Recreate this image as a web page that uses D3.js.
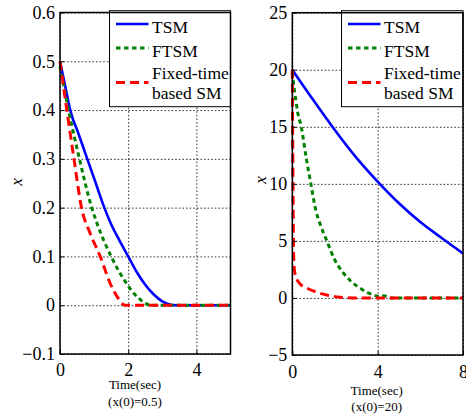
<!DOCTYPE html>
<html>
<head>
<meta charset="utf-8">
<script src="https://cdn.jsdelivr.net/npm/d3@7"></script>
</head>
<body style="margin:0">
<div id="chart"></div>
<script>
// left panel, x(0)=0.5
var tsmLeftT  = [0, 0.15, 0.3, 0.55, 0.8, 1.05, 1.3, 1.5, 1.75, 2.0, 2.25, 2.5, 2.75, 3.0, 3.25, 3.4, 5];
var tsmLeftX  = [0.5, 0.45, 0.4, 0.35, 0.3, 0.25, 0.2, 0.166, 0.132, 0.1, 0.068, 0.042, 0.022, 0.008, 0.001, 0, 0];
var ftsmLeftT = [0, 0.25, 0.57, 0.93, 1.1, 1.3, 1.5, 1.7, 1.9, 2.1, 2.3, 2.5, 2.65, 5];
var ftsmLeftX = [0.49, 0.4, 0.3, 0.2, 0.165, 0.13, 0.1, 0.073, 0.05, 0.03, 0.015, 0.004, 0, 0];
var fxLeftT   = [0, 0.2, 0.41, 0.63, 0.88, 1.18, 1.47, 1.7, 1.9, 5];
var fxLeftX   = [0.5, 0.4, 0.3, 0.2, 0.148, 0.1, 0.045, 0.015, 0, 0];

// right panel, x(0)=20
var tsmRightT  = [0, 1, 2, 3, 4, 5, 6, 7, 8];
var tsmRightX  = [20, 17.3, 14.7, 12.3, 10.2, 8.3, 6.65, 5.25, 3.9];
var ftsmRightT = [0, 0.05, 0.175, 0.25, 0.42, 0.65, 0.87, 1.1, 1.3, 1.62, 2.0, 2.35, 2.71, 3.1, 3.5, 3.9, 4.1, 4.28, 4.6, 8];
var ftsmRightX = [19.8, 18.9, 17.2, 16.3, 15, 12.3, 10, 7.7, 6.5, 5, 3.3, 2.3, 1.53, 0.95, 0.5, 0.2, 0.12, 0.2, 0, 0];
var fxRightT   = [0, 0.02, 0.04, 0.06, 0.1, 0.2, 0.36, 0.7, 1.15, 1.7, 2.24, 2.8, 8];
var fxRightX   = [20, 14, 8, 4, 2.4, 1.7, 1.25, 0.85, 0.5, 0.22, 0.07, 0, 0];

var leftXTicks  = [0, 2, 4];
var leftYTicks  = [-0.1, 0, 0.1, 0.2, 0.3, 0.4, 0.5, 0.6];
var rightXTicks = [0, 4, 8];
var rightYTicks = [-5, 0, 5, 10, 15, 20, 25];

var legendNames = ['TSM', 'FTSM', 'Fixed-time|based SM'];

var svg = d3.select('#chart').append('svg').attr('width', 466).attr('height', 417)
  .style('display', 'block');

var styles = [
  { color: '#0000ff', dash: null, width: 2.6 },
  { color: '#008000', dash: '4.5,3.5', width: 3 },
  { color: '#ff0000', dash: '9,5', width: 3 }
];

function zip(t, v) { return t.map(function(d, i) { return [d, v[i]]; }); }

function drawPanel(p) {
  var x = d3.scaleLinear().domain(p.xDomain).range([p.left, p.right]);
  var y = d3.scaleLinear().domain(p.yDomain).range([p.bottom, p.top]);
  var h = p.bottom - p.top, w = p.right - p.left;
  var g = svg.append('g');

  // grid
  g.append('g').attr('transform', 'translate(0,' + p.bottom + ')')
    .call(d3.axisBottom(x).tickValues(p.xTicks).tickSize(-h).tickFormat(''))
    .call(function(s) {
      s.select('.domain').remove();
      s.selectAll('line').attr('stroke', '#000').attr('stroke-width', 0.8).attr('stroke-dasharray', '1.6,2');
    });
  g.append('g').attr('transform', 'translate(' + p.left + ',0)')
    .call(d3.axisLeft(y).tickValues(p.yTicks).tickSize(-w).tickFormat(''))
    .call(function(s) {
      s.select('.domain').remove();
      s.selectAll('line').attr('stroke', '#000').attr('stroke-width', 0.8).attr('stroke-dasharray', '1.6,2');
    });

  // lines
  var line = d3.line().x(function(d) { return x(d[0]); }).y(function(d) { return y(d[1]); })
    .curve(d3.curveMonotoneX);
  p.series.forEach(function(s, i) {
    g.append('path').datum(s)
      .attr('fill', 'none')
      .attr('stroke', styles[i].color)
      .attr('stroke-width', styles[i].width)
      .attr('stroke-dasharray', styles[i].dash)
      .attr('d', line);
  });

  // axes
  g.append('g').attr('transform', 'translate(0,' + p.bottom + ')')
    .call(d3.axisBottom(x).tickValues(p.xTicks).tickSize(-4).tickPadding(p.xPad).tickFormat(d3.format('d')))
    .call(function(s) {
      s.select('.domain').remove();
      s.selectAll('line').attr('stroke', '#000');
      s.selectAll('text').style('font-size', '18px');
    });
  g.append('g').attr('transform', 'translate(' + p.left + ',0)')
    .call(d3.axisLeft(y).tickValues(p.yTicks).tickSize(-4).tickPadding(5).tickFormat(p.yFormat))
    .call(function(s) {
      s.select('.domain').remove();
      s.selectAll('line').attr('stroke', '#000');
      s.selectAll('text').style('font-size', '18px');
    });

  // legend
  var lg = g.append('g');
  lg.append('rect').attr('x', p.lgX).attr('y', 10.7).attr('width', p.right - p.lgX).attr('height', 96)
    .attr('fill', '#fff').attr('stroke', '#000').attr('stroke-width', 1);
  var rowsY = [24, 48, 82.5];
  legendNames.forEach(function(name, i) {
    lg.append('line').attr('x1', p.lgX + 6.5).attr('x2', p.lgX + 39).attr('y1', rowsY[i]).attr('y2', rowsY[i])
      .attr('stroke', styles[i].color).attr('stroke-width', styles[i].width)
      .attr('stroke-dasharray', styles[i].dash);
    var parts = name.split('|');
    parts.forEach(function(t, j) {
      lg.append('text').attr('x', p.lgX + 42.5)
        .attr('y', parts.length > 1 ? 79 + j * 20 : rowsY[i] + 8.5)
        .style('font-size', '17.5px').text(t);
    });
  });

  // frame
  g.append('rect').attr('x', p.left).attr('y', p.top).attr('width', w).attr('height', h)
    .attr('fill', 'none').attr('stroke', '#000').attr('stroke-width', 1.5);

  // labels
  g.append('text').attr('transform', 'translate(' + p.yLabX + ',' + p.yLabY + ') rotate(-90)')
    .attr('text-anchor', 'middle').attr('dy', '0.35em')
    .style('font-size', '17px').style('font-style', 'italic').text('x');
  g.append('text').attr('x', p.labX).attr('y', p.labY1).attr('text-anchor', 'middle')
    .style('font-size', '13px').text('Time(sec)');
  g.append('text').attr('x', p.labX).attr('y', p.labY2).attr('text-anchor', 'middle')
    .style('font-size', '13px').text(p.caption);
}

drawPanel({
  left: 60, right: 230.5, top: 12.5, bottom: 354,
  xDomain: [0, 5], yDomain: [-0.1, 0.6],
  xTicks: leftXTicks, yTicks: leftYTicks,
  yFormat: function(d) { return d === 0 ? '0' : d3.format('.1f')(d); },
  series: [zip(tsmLeftT, tsmLeftX), zip(ftsmLeftT, ftsmLeftX), zip(fxLeftT, fxLeftX)],
  lgX: 109.5, xPad: 9.5,
  yLabX: 16, yLabY: 182,
  labX: 135, labY1: 388.5, labY2: 405.5, caption: '(x(0)=0.5)'
});

drawPanel({
  left: 292.3, right: 463, top: 12.7, bottom: 355,
  xDomain: [0, 8], yDomain: [-5, 25],
  xTicks: rightXTicks, yTicks: rightYTicks,
  yFormat: d3.format('d'),
  series: [zip(tsmRightT, tsmRightX), zip(ftsmRightT, ftsmRightX), zip(fxRightT, fxRightX)],
  lgX: 341.5, xPad: 10,
  yLabX: 259.7, yLabY: 180,
  labX: 376.7, labY1: 394.5, labY2: 410.5, caption: '(x(0)=20)'
});

// same font on every text
svg.selectAll('text').style('font-family', "'Liberation Serif', serif").style('fill', '#000');
</script>
</body>
</html>
